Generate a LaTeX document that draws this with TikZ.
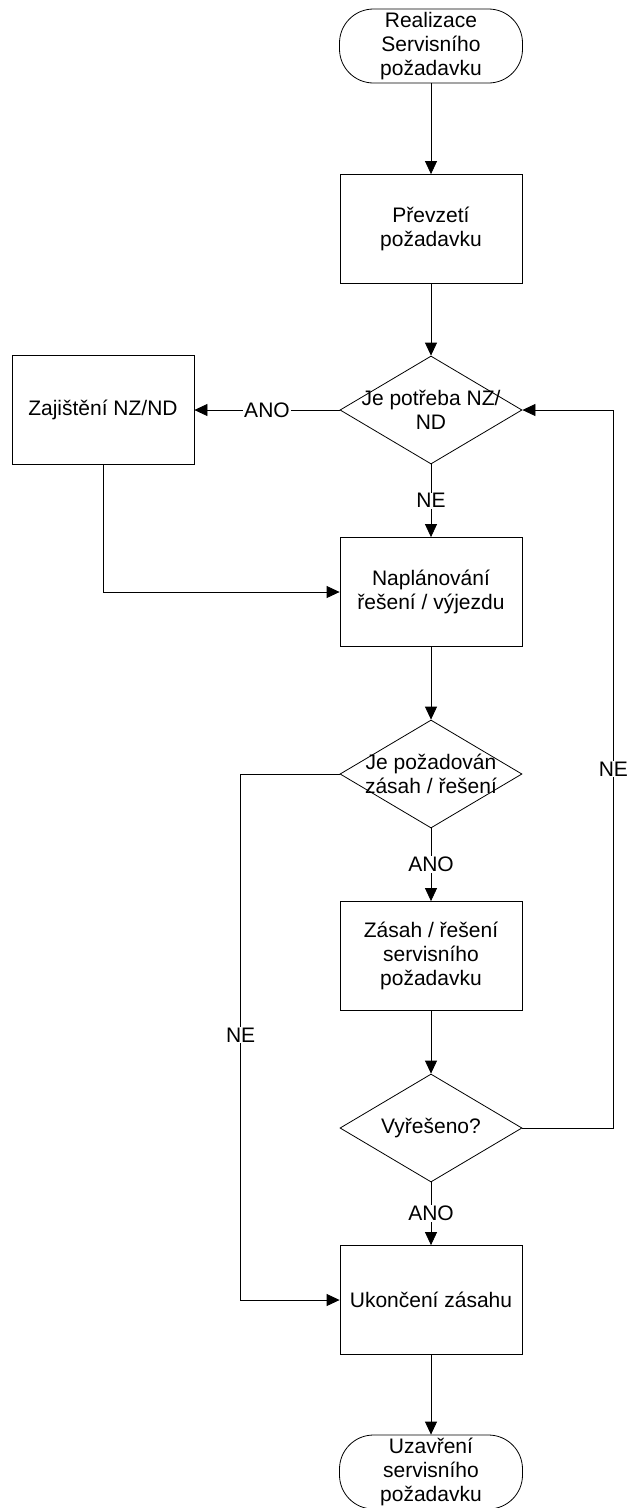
\documentclass[tikz,border=0pt]{standalone}
\usepackage{fontspec}
\setmainfont{Liberation Sans}
\usetikzlibrary{shapes.geometric,arrows.meta}

\tikzset{
  txt/.style={font=\fontsize{21}{24}\selectfont, text=black},
  base/.style={txt, draw=black, line width=0.8pt, align=center, inner sep=0pt},
  procbox/.style={base, rectangle, minimum width=182pt, minimum height=109pt},
  termbox/.style={base, rectangle, rounded corners=34pt, minimum width=183pt, minimum height=74pt},
  decision/.style={draw=black, line width=0.8pt, diamond, minimum width=182pt, minimum height=108pt, inner sep=0pt},
  dtext/.style={txt, align=center, inner sep=0pt},
  flow/.style={line width=0.8pt, -{Triangle[length=13pt,width=12pt]}},
  lbl/.style={txt, fill=white, inner sep=1pt}
}

\begin{document}
\begin{tikzpicture}[x=1pt, y=-1pt]
  \useasboundingbox (0,0) rectangle (630,1508);
  \clip (0,0) rectangle (630,1508);

  % main column
  \node[termbox]  (start) at (431,46)   {Realizace\\Servisního\\požadavku};
  \node[procbox]  (prev)  at (431,229)  {Převzetí\\požadavku};
  \node[decision] (d1)    at (431,410)  {};
  \node[dtext]    (d1t)   at (431,410)  {Je potřeba NZ/\\ND};
  \node[procbox]  (zaj)   at (103,410)  {Zajištění NZ/ND};
  \node[procbox]  (nap)   at (431,592)  {Naplánování\\řešení / výjezdu};
  \node[decision] (d2)    at (431,774)  {};
  \node[dtext]    (d2t)   at (431,774)  {Je požadován\\zásah / řešení};
  \node[procbox]  (zas)   at (431,956)  {Zásah / řešení\\servisního\\požadavku};
  \node[decision] (d3)    at (431,1128) {};
  \node[dtext]    (d3t)   at (431,1128) {Vyřešeno?};
  \node[procbox]  (uk)    at (431,1300) {Ukončení zásahu};
  \node[termbox]  (end)   at (431,1472) {Uzavření\\servisního\\požadavku};

  % connectors
  \draw[flow] (start) -- (prev);
  \draw[flow] (prev) -- (d1.north);
  \draw[flow] (d1.west) -- node[lbl] {ANO} (zaj.east);
  \draw[flow] (d1.south) -- node[lbl] {NE} (nap.north);
  \draw[flow] (zaj.south) |- (nap.west);
  \draw[flow] (nap.south) -- (d2.north);
  \draw[flow] (d2.south) -- node[lbl] {ANO} (zas.north);
  \draw[flow] (d2.west) -- ++(-99,0) |- node[lbl, pos=0.248] {NE} (uk.west);
  \draw[flow] (zas.south) -- (d3.north);
  \draw[flow] (d3.south) -- node[lbl] {ANO} (uk.north);
  \draw[flow] (d3.east) -- ++(91,0) |- node[lbl, pos=0.25] {NE} (d1.east);
  \draw[flow] (uk.south) -- (end.north);
\end{tikzpicture}
\end{document}
